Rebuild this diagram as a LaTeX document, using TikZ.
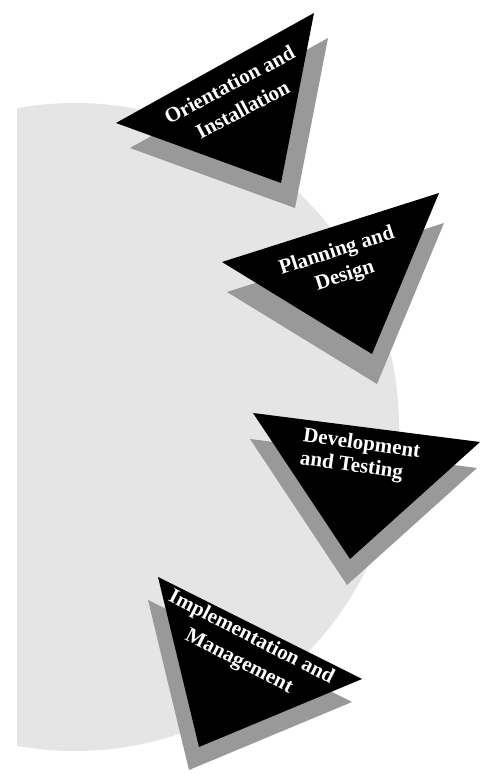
\documentclass[tikz,border=0pt]{standalone}
\usepackage{fontspec}
\setmainfont{Liberation Serif}
\definecolor{bggray}{HTML}{E5E5E5}
\definecolor{shadowgray}{HTML}{999999}
\begin{document}
\begin{tikzpicture}[x=1pt,y=1pt,
  tri/.style={fill=black},
  shadowtri/.style={fill=shadowgray},
  lbl/.style={text=white, font=\bfseries\fontsize{21}{26}\selectfont, align=center, inner sep=0pt}]
\useasboundingbox (0,0) rectangle (496,774);
% background disc, cut straight on the left
\begin{scope}
  \clip (17,0) rectangle (496,774);
  \fill[bggray] (75,347) circle (324);
\end{scope}
% 1 Orientation and Installation
\fill[shadowtri, shift={(14,-25)}] (116,651) -- (314,761) -- (281,591) -- cycle;
\fill[tri] (116,651) -- (314,761) -- (281,591) -- cycle;
\node[lbl, rotate=28, font=\bfseries\fontsize{21}{28}\selectfont] (orient) at (236,677) {Orientation and\\Installation};
% 2 Planning and Design
\fill[shadowtri, shift={(5,-30)}] (222,512) -- (439,581) -- (372,420) -- cycle;
\fill[tri] (222,512) -- (439,581) -- (372,420) -- cycle;
\node[lbl, rotate=18] (plan) at (341,510) {Planning and\\Design};
% 3 Development and Testing
\fill[shadowtri, shift={(-3,-26)}] (253,361) -- (480,332) -- (350,215) -- cycle;
\fill[tri] (253,361) -- (480,332) -- (350,215) -- cycle;
\node[lbl, rotate=-8, align=left, font=\bfseries\fontsize{21}{23}\selectfont] (devel) at (360,318) {Development\\and Testing};
% 4 Implementation and Management
\fill[shadowtri, shift={(-10,-23)}] (158,197) -- (362,95) -- (199,27) -- cycle;
\fill[tri] (158,197) -- (362,95) -- (199,27) -- cycle;
\node[lbl, rotate=-27, font=\bfseries\fontsize{21}{27}\selectfont] (impl) at (245,124) {Implementation and\\Management};
\end{tikzpicture}
\end{document}
